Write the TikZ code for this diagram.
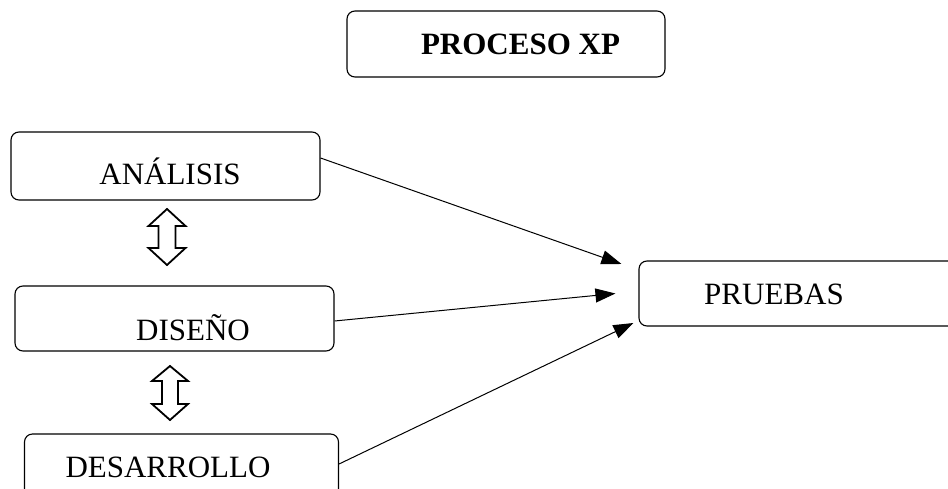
\documentclass[tikz,border=0pt]{standalone}
\usepackage{fontspec}
\setmainfont{Liberation Serif}
\usetikzlibrary{arrows.meta}
\begin{document}
\begin{tikzpicture}[x=1pt,y=-1pt,
  box/.style={draw, line width=1.1pt, rounded corners=8pt, inner sep=0pt},
  lbl/.style={anchor=base, inner sep=0pt, font=\fontsize{31}{36}\selectfont},
  flow/.style={line width=1pt, -{Triangle[length=20pt,width=14pt]}},
  updown/.style={draw, line width=1.8pt, fill=white, line join=miter}]
\useasboundingbox (0,0) rectangle (948,489);
\clip (0,0) rectangle (948,489);

% boxes
\node[box, minimum width=318pt, minimum height=66pt] (titulo) at (506,44) {};
\node[box, minimum width=309pt, minimum height=68pt] (ana) at (165.5,166) {};
\node[box, minimum width=319pt, minimum height=65pt] (dis) at (174.5,318.5) {};
\node[box, minimum width=314pt, minimum height=66pt] (des) at (181.5,467) {};
\node[box, minimum width=330pt, minimum height=65pt] (pru) at (804,293.5) {};

% labels
\node[lbl, font=\fontsize{31}{36}\selectfont\bfseries] (tTitulo) at (520.5,55) {PROCESO XP};
\node[lbl] (tAna) at (170,185) {ANÁLISIS};
\node[lbl] (tDis) at (193,340) {DISEÑO};
\node[lbl] (tDes) at (168,477) {DESARROLLO};
\node[lbl] (tPru) at (774,305) {PRUEBAS};

% connectors into PRUEBAS
\draw[flow] ([yshift=8pt]ana.east) -- ([shift={(-17pt,29.5pt)}]pru.west);
\draw[flow] ([yshift=-2.5pt]dis.east) -- ([xshift=-23pt]pru.west);
\draw[flow] ([yshift=3pt]des.east) -- ([shift={(-5pt,-29.5pt)}]pru.west);

% two-way block arrows between the stages
\path[updown] (167,209) -- (185.5,226) -- (175.5,226) -- (175.5,248) -- (185.5,248)
  -- (167,265) -- (148.5,248) -- (158.5,248) -- (158.5,226) -- (148.5,226) -- cycle;
\path[updown] (170,366) -- (188,381) -- (178,381) -- (178,404) -- (188,404)
  -- (170,420) -- (152,404) -- (162,404) -- (162,381) -- (152,381) -- cycle;
\end{tikzpicture}
\end{document}
